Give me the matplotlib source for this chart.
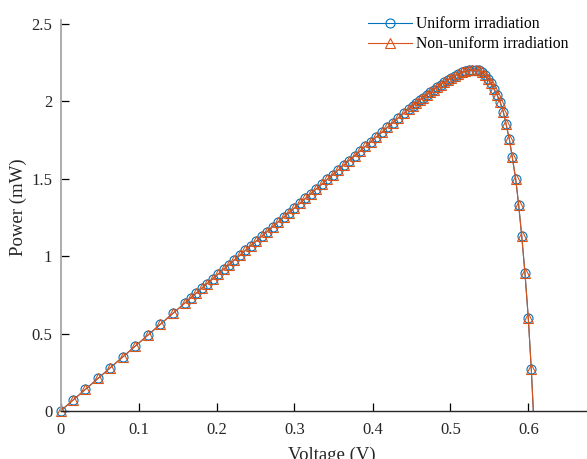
import matplotlib.pyplot as plt

# Datos
voltage = [0, 0.016, 0.032, 0.048, 0.064, 0.080, 0.096, 0.112, 0.128, 0.144, 0.160,
           0.167, 0.174, 0.181, 0.188, 0.195, 0.202, 0.209, 0.216, 0.223, 0.230,
           0.237, 0.244, 0.251, 0.258, 0.265, 0.272, 0.279, 0.286, 0.293, 0.300,
           0.307, 0.314, 0.321, 0.328, 0.335, 0.342, 0.349, 0.356, 0.363, 0.370,
           0.377, 0.384, 0.391, 0.398, 0.405, 0.412, 0.419, 0.426, 0.433, 0.440,
           0.447,
           0.4515, 0.456, 0.4605, 0.465, 0.4695, 0.474, 0.4785, 0.483, 0.4875, 0.492,
           0.4965, 0.501, 0.5055, 0.510, 0.5145, 0.519, 0.5235, 0.528, 0.5325,
           0.5362, 0.5400, 0.5438, 0.5477, 0.5516, 0.5556, 0.5596, 0.5635,
           0.5677, 0.5712, 0.5754, 0.5792, 0.5836, 0.5874, 0.5913, 0.5955, 0.5997,
           0.6036, 0.6062]

p_uniform = [0, 0.070, 0.140, 0.210, 0.280, 0.350, 0.420, 0.490, 0.560, 0.630, 0.700,
             0.731, 0.762, 0.792, 0.823, 0.853, 0.884, 0.915, 0.945, 0.976, 1.006,
             1.037, 1.068, 1.098, 1.129, 1.159, 1.190, 1.221, 1.251, 1.282, 1.312,
             1.343, 1.373, 1.404, 1.435, 1.465, 1.496, 1.526, 1.557, 1.587, 1.618,
             1.648, 1.679, 1.710, 1.740, 1.771, 1.801, 1.832, 1.862, 1.893, 1.923,
             1.954,
             1.970, 1.989, 2.007, 2.025, 2.042, 2.059, 2.076, 2.092, 2.108, 2.124,
             2.138, 2.153, 2.166, 2.177, 2.187, 2.194, 2.200, 2.203, 2.204,
             2.200, 2.188, 2.170, 2.146, 2.118, 2.082, 2.044, 1.998,
             1.933, 1.854, 1.757, 1.639, 1.499, 1.331, 1.131, 0.889, 0.603,
             0.269, 0.0]

p_nonuniform = [0, 0.070, 0.140, 0.210, 0.280, 0.350, 0.420, 0.490, 0.560, 0.630, 0.700,
                0.731, 0.762, 0.792, 0.823, 0.853, 0.884, 0.915, 0.945, 0.976, 1.006,
                1.037, 1.068, 1.098, 1.129, 1.159, 1.190, 1.221, 1.251, 1.282, 1.312,
                1.343, 1.373, 1.404, 1.435, 1.465, 1.496, 1.526, 1.557, 1.587, 1.618,
                1.648, 1.679, 1.710, 1.740, 1.771, 1.801, 1.832, 1.862, 1.893, 1.923,
                1.954,
                1.970, 1.989, 2.007, 2.025, 2.042, 2.059, 2.076, 2.092, 2.108, 2.124,
                2.138, 2.153, 2.166, 2.177, 2.187, 2.194, 2.200, 2.203, 2.204,
                2.200, 2.188, 2.170, 2.146, 2.118, 2.082, 2.044, 1.998,
                1.933, 1.854, 1.757, 1.639, 1.499, 1.331, 1.131, 0.889, 0.603,
                0.269, 0.0]

x_ticks = [0, 0.1, 0.2, 0.3, 0.4, 0.5, 0.6]
x_tick_labels = ['0', '0.1', '0.2', '0.3', '0.4', '0.5', '0.6']
y_ticks = [0, 0.5, 1, 1.5, 2, 2.5]
y_tick_labels = ['0', '0.5', '1', '1.5', '2', '2.5']

plt.rcParams['font.family'] = ['Liberation Serif', 'DejaVu Serif']

fig = plt.figure(figsize=(5.87, 4.59), dpi=100)
ax = fig.add_axes([60.5 / 587, 48 / 459, 546 / 587, 391 / 459])

ax.plot(voltage, p_uniform, color='#0072BD', linewidth=0.8, marker='o',
        markersize=6.5, markerfacecolor='none', markeredgewidth=0.8,
        markevery=slice(0, -1), clip_on=False, label='Uniform irradiation')
ax.plot(voltage, p_nonuniform, color='#D95319', linewidth=0.8, marker='^',
        markersize=7.8, markerfacecolor='none', markeredgewidth=0.8,
        markevery=slice(0, -1), clip_on=False, label='Non-uniform irradiation')

ax.set_xlim(0, 0.7)
ax.set_ylim(0, 2.526)
ax.set_xticks(x_ticks)
ax.set_xticklabels(x_tick_labels)
ax.set_yticks(y_ticks)
ax.set_yticklabels(y_tick_labels)
ax.tick_params(direction='in', length=6, width=0.9, labelsize=12,
               labelcolor='#262626')
ax.tick_params(axis='x', pad=8)
ax.tick_params(axis='y', pad=6)

ax.spines['top'].set_visible(False)
ax.spines['right'].set_visible(False)
ax.spines['left'].set_color('#a6a6a6')
ax.spines['left'].set_linewidth(1.3)
ax.spines['bottom'].set_color('#262626')
ax.spines['bottom'].set_linewidth(1.0)

ax.set_xlabel('Voltage (V)', fontsize=13.5, color='#262626')
ax.set_ylabel('Power (mW)', fontsize=13.5, color='#262626')
ax.xaxis.set_label_coords(0.497, -0.09)
ax.yaxis.set_label_coords(-0.061, 0.522)

ax.legend(loc='upper left', bbox_to_anchor=(368 / 587, 1 - 16 / 459),
          bbox_transform=fig.transFigure, frameon=False, fontsize=11.3,
          borderpad=0, borderaxespad=0, handlelength=2.8, handletextpad=0.25,
          labelspacing=0.28, numpoints=1)

fig.savefig('out.png', dpi=100)
